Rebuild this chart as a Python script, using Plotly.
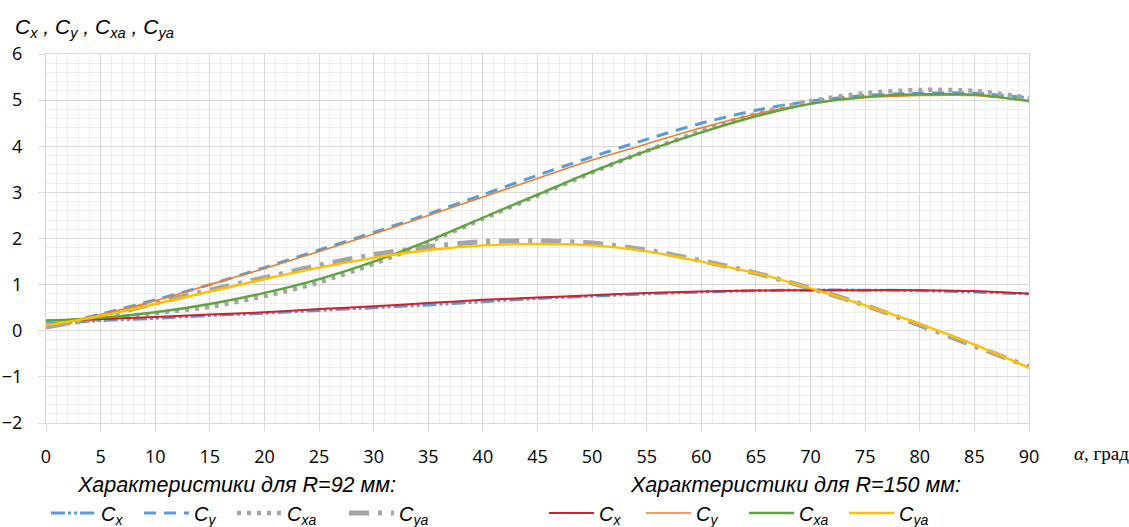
import plotly.graph_objects as go

alpha = [0, 5, 10, 15, 20, 25, 30, 35, 40, 45, 50, 55, 60, 65, 70, 75, 80, 85, 90]

# R = 92 mm
r92_cx = [0.15, 0.22, 0.27, 0.33, 0.38, 0.44, 0.50, 0.56, 0.63, 0.70, 0.75, 0.80, 0.84, 0.87, 0.88, 0.88, 0.87, 0.84, 0.80]
r92_cy = [0.10, 0.36, 0.67, 1.00, 1.37, 1.75, 2.13, 2.53, 2.95, 3.37, 3.77, 4.15, 4.50, 4.78, 4.98, 5.10, 5.15, 5.15, 5.05]
r92_cxa = [0.10, 0.25, 0.38, 0.52, 0.75, 1.05, 1.45, 1.92, 2.43, 2.93, 3.43, 3.90, 4.33, 4.70, 4.98, 5.15, 5.22, 5.20, 5.05]
r92_cya = [0.08, 0.30, 0.60, 0.88, 1.15, 1.42, 1.65, 1.82, 1.93, 1.95, 1.90, 1.75, 1.52, 1.25, 0.92, 0.55, 0.12, -0.33, -0.78]

# R = 150 mm
r150_cx = [0.22, 0.25, 0.30, 0.35, 0.40, 0.47, 0.53, 0.60, 0.67, 0.72, 0.77, 0.82, 0.85, 0.87, 0.88, 0.88, 0.88, 0.86, 0.80]
r150_cy = [0.10, 0.35, 0.65, 1.00, 1.35, 1.72, 2.10, 2.50, 2.90, 3.30, 3.70, 4.05, 4.40, 4.70, 4.92, 5.05, 5.10, 5.10, 4.98]
r150_cxa = [0.22, 0.28, 0.40, 0.58, 0.82, 1.12, 1.50, 1.95, 2.45, 2.95, 3.45, 3.90, 4.30, 4.65, 4.92, 5.07, 5.13, 5.12, 4.98]
r150_cya = [0.12, 0.32, 0.58, 0.85, 1.12, 1.37, 1.58, 1.75, 1.85, 1.88, 1.85, 1.72, 1.50, 1.25, 0.92, 0.55, 0.15, -0.30, -0.80]

names = ["<i>C<sub>x</sub></i>", "<i>C<sub>y</sub></i>", "<i>C<sub>xa</sub></i>", "<i>C<sub>ya</sub></i>"]

BLUE = "#5B9BD5"
GRAY = "#A5A5A5"

FONT = "Open Sans"
TFONT = "Liberation Sans"
GRID = "#D9D9D9"
MINOR = "#EEEEEE"

L, R, T, B = 46, 100, 54, 104
PW = 1129 - L - R
PH = 527 - T - B

# legend sample start positions (page pixels) for each entry
legend_x92 = [52, 145, 238, 350]
legend_x150 = [550, 647, 750, 850]

fig = go.Figure()
legend_layouts = {}

r92 = [
    (r92_cx, dict(color=BLUE, width=3, dash="14px,3px,3px,3px,3px,3px")),
    (r92_cy, dict(color=BLUE, width=3, dash="12px,8px")),
    (r92_cxa, dict(color=GRAY, width=4.5, dash="4px,6px")),
    (r92_cya, dict(color=GRAY, width=5, dash="20px,9px,4px,9px")),
]
r150 = [
    (r150_cx, dict(color="#D0202A", width=2)),
    (r150_cy, dict(color="#ED7D31", width=1.6)),
    (r150_cxa, dict(color="#5FA33E", width=2.4)),
    (r150_cya, dict(color="#FFC000", width=2.4)),
]

idx = 0
for group, xs in ((r92, legend_x92), (r150, legend_x150)):
    for (vals, ln), nm, lx in zip(group, names, xs):
        idx += 1
        key = "legend" if idx == 1 else f"legend{idx}"
        ln = dict(ln, shape="spline", smoothing=0.8)
        fig.add_trace(go.Scatter(x=alpha, y=vals, mode="lines", name=nm, line=ln, legend=key))
        legend_layouts[key] = dict(
            orientation="h", xref="paper", yref="paper",
            x=(lx - 6 - L) / PW, y=(T + PH - 513) / PH,
            xanchor="left", yanchor="middle",
            font=dict(family=TFONT, size=20), bgcolor="rgba(0,0,0,0)",
            itemwidth=45, borderwidth=0,
        )

fig.update_layout(
    width=1129, height=527,
    margin=dict(l=L, r=R, t=T, b=B, autoexpand=False),
    plot_bgcolor="white", paper_bgcolor="white",
    font=dict(family=FONT, size=18, color="#000000"),
    xaxis=dict(
        range=[0, 90], tickmode="linear", tick0=0, dtick=5,
        showgrid=True, gridcolor=GRID, gridwidth=1,
        minor=dict(dtick=1, showgrid=True, gridcolor=MINOR, gridwidth=1),
        showline=True, linecolor=GRID, linewidth=1, mirror=True,
        ticks="outside", ticklen=7, tickcolor=GRID,
        ticklabelstandoff=10, zeroline=False, automargin=False,
        tickfont=dict(family=FONT, size=18),
    ),
    yaxis=dict(
        range=[-2, 6], tickmode="linear", tick0=-2, dtick=1,
        showgrid=True, gridcolor=GRID, gridwidth=1,
        minor=dict(dtick=0.2, showgrid=True, gridcolor=MINOR, gridwidth=1),
        showline=True, linecolor=GRID, linewidth=1, mirror=True,
        ticks="outside", ticklen=7, tickcolor=GRID,
        ticklabelstandoff=12, zeroline=False, automargin=False,
        tickfont=dict(family=FONT, size=18),
    ),
    showlegend=True,
    **legend_layouts,
)

fig.add_annotation(
    text="<i>C<sub>x</sub> , C<sub>y</sub> , C<sub>xa</sub> , C<sub>ya</sub></i>",
    xref="paper", yref="paper", x=(13 - L) / PW, y=1.0, yshift=26,
    xanchor="left", yanchor="middle", showarrow=False,
    font=dict(family=TFONT, size=21),
)
fig.add_annotation(
    text="<i>α</i>, град",
    xref="paper", yref="paper", x=(1072 - L) / PW, y=0.0, yshift=-30,
    xanchor="left", yanchor="middle", showarrow=False,
    font=dict(family="Liberation Serif", size=19),
)
fig.add_annotation(
    text="<i>Характеристики для R=92 мм:</i>",
    xref="paper", yref="paper", x=(236 - L) / PW, y=0.0, yshift=-62,
    xanchor="center", yanchor="middle", showarrow=False,
    font=dict(family=TFONT, size=21.5),
)
fig.add_annotation(
    text="<i>Характеристики для R=150 мм:</i>",
    xref="paper", yref="paper", x=(795 - L) / PW, y=0.0, yshift=-62,
    xanchor="center", yanchor="middle", showarrow=False,
    font=dict(family=TFONT, size=21.5),
)

fig.write_html(
    "out.html",
    config={"displayModeBar": False},
    post_script="document.body.style.margin='0';document.body.style.padding='0';",
)
